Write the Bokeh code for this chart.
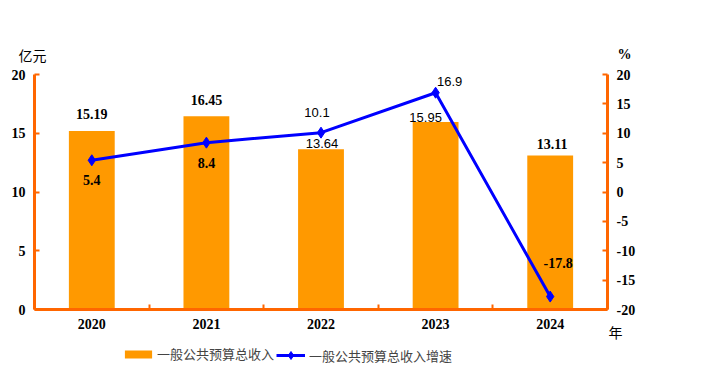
from bokeh.plotting import figure
from bokeh.models import (Range1d, LinearAxis, FixedTicker, Label, Legend,
                          LegendItem)
from bokeh.embed import file_html
from bokeh.resources import INLINE

# ---- data ----
years = ["2020", "2021", "2022", "2023", "2024"]
revenue = [15.19, 16.45, 13.64, 15.95, 13.11]          # 亿元
growth = [5.4, 8.4, 10.1, 16.9, -17.8]                  # %
left_ticks = [0, 5, 10, 15, 20]
right_ticks = [-20, -15, -10, -5, 0, 5, 10, 15, 20]
bar_name = "一般公共预算总收入"
line_name = "一般公共预算总收入增速"

# ---- label styling (offsets in px, font kind) ----
bar_lbl_off = [(0, 17, "serif"), (0, 16, "serif"), (1, 6, "sans"),
               (-10, 5, "sans"), (2, 11, "serif")]
line_lbl_off = [(0, -20, "serif"), (0, -20, "serif"), (-4, 20, "sans"),
                (14, 11, "sans"), (8, 34, "serif")]

ORANGE = "#FF9900"
AXIS = "#FF6600"
BLUE = "#0000FF"

# ---- layout (pixels) ----
W, H = 694, 368
FL, FR, FT, FB = 34, 607, 74, 309      # where the axes sit
n = len(years)
x0, x1 = -0.5, n - 0.5
l0, l1 = left_ticks[0], left_ticks[-1]
r0, r1 = right_ticks[0], right_ticks[-1]
xppu = (FR - FL) / (x1 - x0)
lppu = (FB - FT) / (l1 - l0)
rppu = (FB - FT) / (r1 - r0)

xs = list(range(n))

p = figure(width=W, height=H, output_backend="svg", toolbar_location=None,
           x_range=Range1d(x0 - FL / xppu, x1 + (W - FR) / xppu),
           y_range=Range1d(l0 - (H - FB) / lppu, l1 + FT / lppu),
           min_border=0)
p.extra_y_ranges = {"pct": Range1d(r0 - (H - FB) / rppu, r1 + FT / rppu)}
p.title.visible = False
p.outline_line_color = None
p.xgrid.visible = False
p.ygrid.visible = False
p.background_fill_color = "white"
p.border_fill_color = "white"

def style_axis(ax):
    ax.axis_line_color = AXIS
    ax.axis_line_width = 3
    ax.major_tick_line_color = AXIS
    ax.major_tick_line_width = 2
    ax.major_tick_in = 5
    ax.major_tick_out = 0
    ax.minor_tick_line_color = None
    ax.major_label_text_font = "Liberation Serif"
    ax.major_label_text_font_style = "bold"
    ax.major_label_text_font_size = "14px"
    ax.major_label_text_color = "black"
    ax.major_label_standoff = 9

xa = p.xaxis[0]
xa.ticker = FixedTicker(ticks=xs, minor_ticks=[i - 0.5 for i in range(n + 1)])
xa.major_label_overrides = {i: y for i, y in enumerate(years)}
style_axis(xa)
xa.major_tick_line_color = None
xa.minor_tick_line_color = AXIS
xa.minor_tick_line_width = 2
xa.minor_tick_in = 5
xa.minor_tick_out = 0
xa.fixed_location = l0
xa.bounds = (x0, x1)

ya = p.yaxis[0]
ya.ticker = FixedTicker(ticks=left_ticks)
ya.major_label_overrides = {t: str(t) for t in left_ticks}
style_axis(ya)
ya.fixed_location = x0
ya.bounds = (l0, l1)

ra = LinearAxis(y_range_name="pct", ticker=FixedTicker(ticks=right_ticks))
ra.major_label_overrides = {t: str(t) for t in right_ticks}
style_axis(ra)
ra.fixed_location = x1
ra.bounds = (r0, r1)
p.add_layout(ra, "right")

bars = p.vbar(x=xs, top=revenue, width=0.4, fill_color=ORANGE, line_color=None)
ln = p.line(xs, growth, y_range_name="pct", line_color=BLUE, line_width=3)
pts = p.scatter(xs, growth, y_range_name="pct", marker="diamond", size=11,
                fill_color=BLUE, line_color=BLUE)

def add_lbl(x, y, txt, dx, dy, kind, rng="default"):
    if kind == "serif":
        font, style, size = "Liberation Serif", "bold", "14px"
    else:
        font, style, size = "Liberation Sans", "normal", "13px"
    p.add_layout(Label(x=x, y=y, text=txt, x_offset=dx, y_offset=dy,
                       y_range_name=rng, text_align="center",
                       text_baseline="middle", text_font=font,
                       text_font_style=style, text_font_size=size,
                       text_color="black"))

for i, v in enumerate(revenue):
    dx, dy, k = bar_lbl_off[i]
    add_lbl(i, v, f"{v:g}", dx, dy, k)
for i, v in enumerate(growth):
    dx, dy, k = line_lbl_off[i]
    add_lbl(i, v, f"{v:g}", dx, dy, k, "pct")

# axis titles
p.add_layout(Label(x=x0, y=l1, text="亿元", x_offset=-2, y_offset=20,
                   text_align="center", text_baseline="middle",
                   text_font="Noto Sans CJK SC", text_font_size="14px",
                   text_color="black"))
p.add_layout(Label(x=x1, y=l1, text="%", x_offset=10, y_offset=20,
                   text_align="left", text_baseline="middle",
                   text_font="Liberation Serif", text_font_style="bold",
                   text_font_size="14px", text_color="black"))
p.add_layout(Label(x=x1, y=l0, text="年", x_offset=8, y_offset=-22,
                   text_align="center", text_baseline="middle",
                   text_font="Noto Sans CJK SC", text_font_size="14px",
                   text_color="black"))

common = dict(orientation="horizontal", label_text_font="Noto Sans CJK SC",
              label_text_font_size="13px", spacing=0, padding=0, margin=0,
              border_line_color=None, background_fill_alpha=0)
leg1 = Legend(items=[LegendItem(label=bar_name, renderers=[bars])],
              location=(121, 5), glyph_width=34, glyph_height=10,
              label_height=10, label_standoff=2, **common)
leg2 = Legend(items=[LegendItem(label=line_name, renderers=[ln, pts])],
              location=(276, 3), glyph_width=29, glyph_height=20,
              label_height=20, label_standoff=4, **common)
p.add_layout(leg1)
p.add_layout(leg2)

open("out.html", "w").write(file_html(p, INLINE))
